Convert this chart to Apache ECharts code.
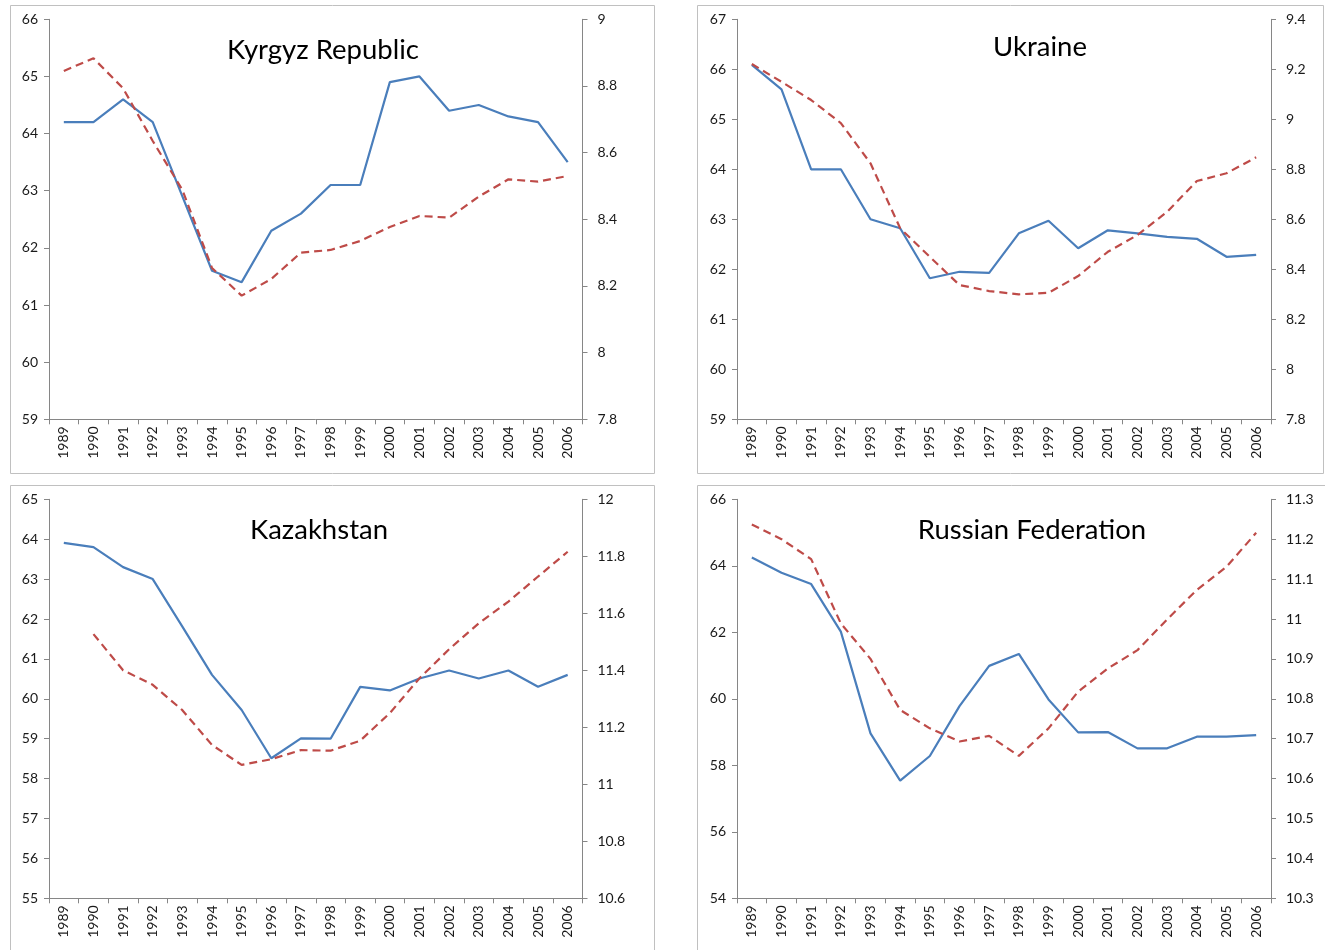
<!DOCTYPE html>
<html>
<head>
<meta charset="utf-8">
<script src="https://cdn.jsdelivr.net/npm/echarts@6/dist/echarts.min.js"></script>
<style>
  body{margin:0;background:#fff;}
  #main{width:1325px;height:950px;}
</style>
</head>
<body>
<div id="main"></div>
<script>
var years = ['1989','1990','1991','1992','1993','1994','1995','1996','1997','1998','1999','2000','2001','2002','2003','2004','2005','2006'];

// Kyrgyz Republic
var kyrgyzBlue = [64.2, 64.2, 64.6, 64.2, 62.9, 61.6, 61.4, 62.3, 62.6, 63.1, 63.1, 64.9, 65.0, 64.4, 64.5, 64.3, 64.2, 63.5];
var kyrgyzRed = [8.845, 8.883, 8.793, 8.635, 8.488, 8.254, 8.171, 8.221, 8.30, 8.308, 8.335, 8.377, 8.41, 8.405, 8.468, 8.52, 8.513, 8.53];
// Ukraine
var ukraineBlue = [66.09, 65.6, 64.0, 64.0, 63.0, 62.82, 61.82, 61.95, 61.93, 62.72, 62.97, 62.42, 62.78, 62.72, 62.65, 62.61, 62.25, 62.29];
var ukraineRed = [9.221, 9.15, 9.077, 8.985, 8.824, 8.564, 8.45, 8.337, 8.313, 8.30, 8.306, 8.373, 8.47, 8.537, 8.63, 8.753, 8.784, 8.848];
// Kazakhstan
var kazakhBlue = [63.91, 63.8, 63.3, 63.0, 61.81, 60.6, 59.72, 58.51, 59.01, 59.0, 60.3, 60.21, 60.51, 60.71, 60.51, 60.71, 60.3, 60.6];
var kazakhRed = [null, 11.527, 11.40, 11.349, 11.26, 11.138, 11.068, 11.088, 11.12, 11.118, 11.153, 11.25, 11.372, 11.474, 11.565, 11.641, 11.729, 11.816];
// Russian Federation
var russiaBlue = [64.25, 63.79, 63.45, 62.02, 58.96, 57.54, 58.28, 59.78, 60.99, 61.35, 59.98, 58.99, 59.0, 58.51, 58.51, 58.86, 58.86, 58.91];
var russiaRed = [11.237, 11.2, 11.15, 10.989, 10.90, 10.772, 10.726, 10.693, 10.707, 10.657, 10.726, 10.818, 10.876, 10.922, 10.999, 11.073, 11.131, 11.216];

var panels = [
    {name:'Kyrgyz Republic', blue:kyrgyzBlue, red:kyrgyzRed, l:[59,66,1], r:[7.8,9,0.2],
     grid:{left:49, top:19.3, width:533.5, height:400}, tx:323, ty:50, box:[10.5,5.5,644,468]},
    {name:'Ukraine', blue:ukraineBlue, red:ukraineRed, l:[59,67,1], r:[7.8,9.4,0.2],
     grid:{left:737, top:19.3, width:534, height:400}, tx:1040, ty:47, box:[697.5,5.5,626,468]},
    {name:'Kazakhstan', blue:kazakhBlue, red:kazakhRed, l:[55,65,1], r:[10.6,12,0.2],
     grid:{left:49, top:499.3, width:533.5, height:399}, tx:319, ty:530, box:[10.5,485.5,644,480]},
    {name:'Russian Federation', blue:russiaBlue, red:russiaRed, l:[54,66,2], r:[10.3,11.3,0.1],
     grid:{left:737, top:499.3, width:534, height:399}, tx:1032, ty:530, box:[697.5,485.5,640,480]}
];

var axisColor = '#868686';
var labelStyle = {color:'#1a1a1a', fontFamily:'Lato', fontSize:14};

var option = {
    animation:false,
    backgroundColor:'#fff',
    grid:[], xAxis:[], yAxis:[], series:[], graphic:[]
};

panels.forEach(function(p, i){
    option.grid.push(p.grid);
    option.xAxis.push({
        type:'category', gridIndex:i, data:years, boundaryGap:true,
        axisLine:{lineStyle:{color:axisColor}},
        axisTick:{show:true, length:5, lineStyle:{color:axisColor}},
        axisLabel:Object.assign({rotate:90, margin:7, interval:0}, labelStyle),
        splitLine:{show:false}
    });
    option.yAxis.push({
        type:'value', gridIndex:i, position:'left', min:p.l[0], max:p.l[1], interval:p.l[2],
        axisLine:{show:true, lineStyle:{color:axisColor}},
        axisTick:{show:true, length:5, lineStyle:{color:axisColor}},
        axisLabel:Object.assign({margin:11}, labelStyle),
        splitLine:{show:false}
    });
    option.yAxis.push({
        type:'value', gridIndex:i, position:'right', min:p.r[0], max:p.r[1], interval:p.r[2],
        axisLine:{show:true, lineStyle:{color:axisColor}},
        axisTick:{show:true, length:5, lineStyle:{color:axisColor}},
        axisLabel:Object.assign({margin:15}, labelStyle),
        splitLine:{show:false}
    });
    option.series.push({
        type:'line', xAxisIndex:i, yAxisIndex:i*2, data:p.blue,
        symbol:'none', lineStyle:{color:'#4a7ebb', width:2.2}, itemStyle:{color:'#4a7ebb'}
    });
    option.series.push({
        type:'line', xAxisIndex:i, yAxisIndex:i*2+1, data:p.red,
        symbol:'none', connectNulls:false,
        lineStyle:{color:'#be4b48', width:2.2, type:[8,5]}, itemStyle:{color:'#be4b48'}
    });
    // panel frame
    option.graphic.push({
        type:'rect', z:-1, shape:{x:p.box[0], y:p.box[1], width:p.box[2], height:p.box[3]},
        style:{fill:null, stroke:'#c0c0c0', lineWidth:1}
    });
    // title
    option.graphic.push({
        type:'text', x:p.tx, y:p.ty,
        style:{text:p.name, fontFamily:'Lato', fontSize:27.5, fill:'#000', align:'center', verticalAlign:'middle'}
    });
});

var myChart = echarts.init(document.getElementById('main'));
myChart.setOption(option);
</script>
</body>
</html>
